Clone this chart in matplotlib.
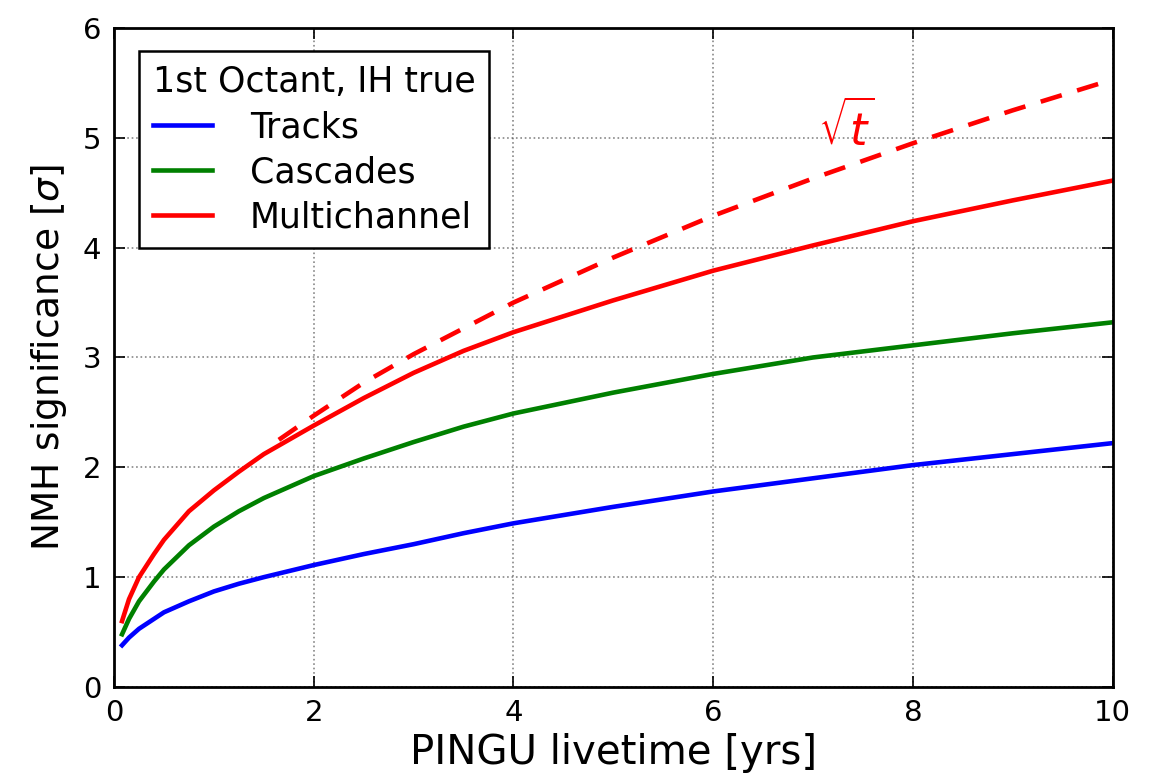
import matplotlib
matplotlib.use("Agg")
import matplotlib.pyplot as plt

# PINGU livetime in years and the significance curves per channel
livetime = [0.08, 0.15, 0.25, 0.4, 0.5, 0.75, 1, 1.25, 1.5, 2, 2.5, 3, 3.5, 4,
            5, 6, 7, 8, 9, 10]
tracks = [0.38, 0.45, 0.53, 0.62, 0.68, 0.78, 0.87, 0.94, 1.00, 1.11, 1.21,
          1.30, 1.40, 1.49, 1.64, 1.78, 1.90, 2.02, 2.12, 2.22]
cascades = [0.48, 0.62, 0.78, 0.96, 1.07, 1.29, 1.46, 1.60, 1.72, 1.92, 2.08,
            2.23, 2.37, 2.49, 2.68, 2.85, 3.00, 3.11, 3.22, 3.32]
multichannel = [0.60, 0.80, 1.00, 1.21, 1.34, 1.60, 1.79, 1.96, 2.12, 2.38,
                2.63, 2.86, 3.06, 3.23, 3.52, 3.79, 4.02, 4.24, 4.43, 4.61]

# sqrt(t) reference scaling
ref_time = [1.65, 2, 2.5, 3, 4, 5, 6, 7, 8, 9, 10]
ref_sig = [2.25, 2.47, 2.77, 3.03, 3.50, 3.91, 4.29, 4.63, 4.95, 5.25, 5.53]

x_ticks = [0, 2, 4, 6, 8, 10]
y_ticks = [0, 1, 2, 3, 4, 5, 6]

plt.rcParams['font.family'] = ['DejaVu Sans']
fig = plt.figure(figsize=(11.65, 7.76), dpi=100)
ax = fig.add_axes([0.0979, 0.1147, 0.8571, 0.8493])

lw = 3.3
ax.plot(livetime, tracks, color='blue', lw=lw, label='Tracks')
ax.plot(livetime, cascades, color='green', lw=lw, label='Cascades')
ax.plot(livetime, multichannel, color='red', lw=lw, label='Multichannel')
ax.plot(ref_time, ref_sig, color='red', lw=lw, ls=(0, (4.8, 3.5)))
ax.text(7.05, 4.93, r'$\sqrt{t}$', color='red', fontsize=32)

ax.set_xlim(0, 10)
ax.set_ylim(0, 6)
ax.set_xticks(x_ticks)
ax.set_yticks(y_ticks)
ax.tick_params(direction='in', top=True, right=True, length=8, width=1.2,
               labelsize=21, pad=9)
ax.grid(True, color='#555555', ls=':', lw=1.2, alpha=0.7)
for s in ax.spines.values():
    s.set_linewidth(2.0)

ax.set_xlabel('PINGU livetime [yrs]', fontsize=29, labelpad=4)
ax.set_ylabel(r'NMH significance [$\sigma$]', fontsize=27, labelpad=10)

leg = ax.legend(title='1st Octant, IH true', loc='upper left',
                bbox_to_anchor=(0.018, 0.975), fontsize=25, title_fontsize=25,
                fancybox=False, edgecolor='black', framealpha=1,
                handlelength=1.7, handletextpad=1.1, borderpad=0.4,
                labelspacing=0.32, borderaxespad=0.2)
leg.get_frame().set_linewidth(1.8)
leg._legend_box.align = 'left'

fig.savefig('out.png', dpi=100)
